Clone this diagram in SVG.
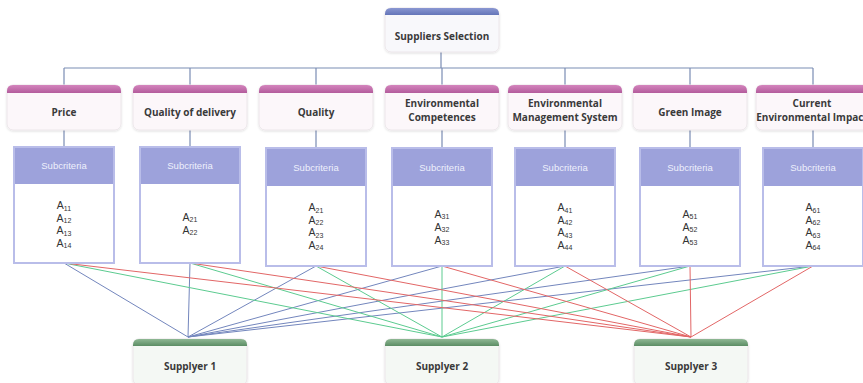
<svg xmlns="http://www.w3.org/2000/svg" width="863" height="383" viewBox="0 0 863 383">
  <style>
    .lbl { font-family: "Open Sans", "Liberation Sans", sans-serif; font-weight: bold; font-size: 10px; fill: #3a3a3a; text-anchor: middle; }
    .sub { font-family: "Liberation Sans", Arial, sans-serif; font-size: 9.5px; fill: #eef0fb; text-anchor: middle; }
    .item { font-family: "Liberation Sans", Arial, sans-serif; font-size: 10.5px; fill: #333; text-anchor: middle; }
    .item tspan { font-size: 7px; }
    .card { stroke: #ece6ea; stroke-width: 1; filter: url(#shadow); }
    .crit { fill: #fcf7fa; }
    .root { fill: #f8f8fb; }
    .supp { fill: #f4f8f4; }
    .box { fill: #ffffff; stroke: #b9bde9; stroke-width: 2; }
    .boxhead { fill: #9da2db; }
    .tree { stroke: #7b8db4; stroke-width: 1.2; fill: none; }
    .s1 { stroke: #7386bd; stroke-width: 1; }
    .s2 { stroke: #5ccb90; stroke-width: 1; }
    .s3 { stroke: #e26666; stroke-width: 1; }
  </style>
  <defs>
    <filter id="shadow" x="-10%" y="-10%" width="120%" height="130%">
      <feDropShadow dx="0" dy="1" stdDeviation="1.2" flood-color="#000" flood-opacity="0.12"/>
    </filter>
    <linearGradient id="gBlue" x1="0" y1="0" x2="0" y2="1">
      <stop offset="0" stop-color="#8a97d2"/>
      <stop offset="1" stop-color="#6475b8"/>
    </linearGradient>
    <linearGradient id="gPink" x1="0" y1="0" x2="0" y2="1">
      <stop offset="0" stop-color="#d484bd"/>
      <stop offset="1" stop-color="#b35c9c"/>
    </linearGradient>
    <linearGradient id="gGreen" x1="0" y1="0" x2="0" y2="1">
      <stop offset="0" stop-color="#8fb894"/>
      <stop offset="1" stop-color="#5b8d64"/>
    </linearGradient>
  </defs>

  <rect width="863" height="383" fill="#ffffff"/>

  <!-- connectors -->
  <g id="connectors">
    <!-- hierarchy -->
    <path class="tree" d="M441 52 V68 M64 68 H813 M64 68 V85 M190 68 V85 M316 68 V85 M442 68 V85 M565 68 V85 M690 68 V85 M813 68 V85"/>
    <path class="tree" d="M64 130 V147 M190 130 V147 M316 130 V148 M442 130 V148 M565 130 V148 M690 130 V148 M813 130 V148"/>
    <!-- subcriteria to supplier 1 -->
    <g class="s1">
      <line x1="64" y1="263" x2="188" y2="337"/>
      <line x1="190" y1="263" x2="188" y2="337"/>
      <line x1="316" y1="266" x2="188" y2="337"/>
      <line x1="442" y1="266" x2="188" y2="337"/>
      <line x1="565" y1="266" x2="188" y2="337"/>
      <line x1="690" y1="266" x2="188" y2="337"/>
      <line x1="813" y1="266" x2="188" y2="337"/>
    </g>
    <!-- subcriteria to supplier 2 -->
    <g class="s2">
      <line x1="64" y1="263" x2="442" y2="337"/>
      <line x1="190" y1="263" x2="442" y2="337"/>
      <line x1="316" y1="266" x2="442" y2="337"/>
      <line x1="442" y1="266" x2="442" y2="337"/>
      <line x1="565" y1="266" x2="442" y2="337"/>
      <line x1="690" y1="266" x2="442" y2="337"/>
      <line x1="813" y1="266" x2="442" y2="337"/>
    </g>
    <!-- subcriteria to supplier 3 -->
    <g class="s3">
      <line x1="64" y1="263" x2="691" y2="337"/>
      <line x1="190" y1="263" x2="691" y2="337"/>
      <line x1="316" y1="266" x2="691" y2="337"/>
      <line x1="442" y1="266" x2="691" y2="337"/>
      <line x1="565" y1="266" x2="691" y2="337"/>
      <line x1="690" y1="266" x2="691" y2="337"/>
      <line x1="813" y1="266" x2="691" y2="337"/>
    </g>
  </g>

  <!-- goal -->
  <g id="goal">
    <rect class="card root" x="385" y="8" width="114" height="44" rx="6"/>
    <path d="M385 15 V14 Q385 8 391 8 H493 Q499 8 499 14 V15 Z" fill="url(#gBlue)"/>
    <text class="lbl" x="442" y="39.5" font-size="10.5">Suppliers Selection</text>
  </g>

  <!-- criteria -->
  <g id="crit-price">
    <rect class="card crit" x="7" y="85" width="114" height="45" rx="6"/>
    <path d="M7 93 V91 Q7 85 13 85 H115 Q121 85 121 91 V93 Z" fill="url(#gPink)"/>
    <text class="lbl" x="64" y="115.5">Price</text>
  </g>
  <g id="crit-delivery">
    <rect class="card crit" x="133" y="85" width="114" height="45" rx="6"/>
    <path d="M133 93 V91 Q133 85 139 85 H241 Q247 85 247 91 V93 Z" fill="url(#gPink)"/>
    <text class="lbl" x="190" y="115.5">Quality of delivery</text>
  </g>
  <g id="crit-quality">
    <rect class="card crit" x="259" y="85" width="114" height="45" rx="6"/>
    <path d="M259 93 V91 Q259 85 265 85 H367 Q373 85 373 91 V93 Z" fill="url(#gPink)"/>
    <text class="lbl" x="316" y="115.5">Quality</text>
  </g>
  <g id="crit-competences">
    <rect class="card crit" x="385" y="85" width="114" height="45" rx="6"/>
    <path d="M385 93 V91 Q385 85 391 85 H493 Q499 85 499 91 V93 Z" fill="url(#gPink)"/>
    <text class="lbl" x="442" y="107">Environmental</text>
    <text class="lbl" x="442" y="120.7">Competences</text>
  </g>
  <g id="crit-ems">
    <rect class="card crit" x="508" y="85" width="114" height="45" rx="6"/>
    <path d="M508 93 V91 Q508 85 514 85 H616 Q622 85 622 91 V93 Z" fill="url(#gPink)"/>
    <text class="lbl" x="565" y="107">Environmental</text>
    <text class="lbl" x="565" y="120.7">Management System</text>
  </g>
  <g id="crit-green">
    <rect class="card crit" x="633" y="85" width="114" height="45" rx="6"/>
    <path d="M633 93 V91 Q633 85 639 85 H741 Q747 85 747 91 V93 Z" fill="url(#gPink)"/>
    <text class="lbl" x="690" y="115.5">Green Image</text>
  </g>
  <g id="crit-impact">
    <rect class="card crit" x="756" y="85" width="114" height="45" rx="6"/>
    <path d="M756 93 V91 Q756 85 762 85 H864 Q870 85 870 91 V93 Z" fill="url(#gPink)"/>
    <text class="lbl" x="812" y="107">Current</text>
    <text class="lbl" x="812" y="120.7">Environmental Impact</text>
  </g>

  <!-- subcriteria -->
  <g id="sub-price">
    <rect class="box" x="14" y="147" width="100" height="116"/>
    <rect class="boxhead" x="15" y="148" width="98" height="36"/>
    <text class="sub" x="64" y="169">Subcriteria</text>
    <text class="item" x="64" y="209">A<tspan dy="1.5">11</tspan></text>
    <text class="item" x="64" y="221.5">A<tspan dy="1.5">12</tspan></text>
    <text class="item" x="64" y="234">A<tspan dy="1.5">13</tspan></text>
    <text class="item" x="64" y="246.5">A<tspan dy="1.5">14</tspan></text>
  </g>
  <g id="sub-delivery">
    <rect class="box" x="140" y="147" width="100" height="116"/>
    <rect class="boxhead" x="141" y="148" width="98" height="36"/>
    <text class="sub" x="190" y="169">Subcriteria</text>
    <text class="item" x="190" y="220.5">A<tspan dy="1.5">21</tspan></text>
    <text class="item" x="190" y="233.5">A<tspan dy="1.5">22</tspan></text>
  </g>
  <g id="sub-quality">
    <rect class="box" x="266" y="148" width="100" height="118"/>
    <rect class="boxhead" x="267" y="149" width="98" height="37"/>
    <text class="sub" x="316" y="171">Subcriteria</text>
    <text class="item" x="316" y="211">A<tspan dy="1.5">21</tspan></text>
    <text class="item" x="316" y="223.5">A<tspan dy="1.5">22</tspan></text>
    <text class="item" x="316" y="236">A<tspan dy="1.5">23</tspan></text>
    <text class="item" x="316" y="248.5">A<tspan dy="1.5">24</tspan></text>
  </g>
  <g id="sub-competences">
    <rect class="box" x="392" y="148" width="100" height="118"/>
    <rect class="boxhead" x="393" y="149" width="98" height="37"/>
    <text class="sub" x="442" y="171">Subcriteria</text>
    <text class="item" x="442" y="217.5">A<tspan dy="1.5">31</tspan></text>
    <text class="item" x="442" y="230.5">A<tspan dy="1.5">32</tspan></text>
    <text class="item" x="442" y="243.5">A<tspan dy="1.5">33</tspan></text>
  </g>
  <g id="sub-ems">
    <rect class="box" x="515" y="148" width="100" height="118"/>
    <rect class="boxhead" x="516" y="149" width="98" height="37"/>
    <text class="sub" x="565" y="171">Subcriteria</text>
    <text class="item" x="565" y="211">A<tspan dy="1.5">41</tspan></text>
    <text class="item" x="565" y="223.5">A<tspan dy="1.5">42</tspan></text>
    <text class="item" x="565" y="236">A<tspan dy="1.5">43</tspan></text>
    <text class="item" x="565" y="248.5">A<tspan dy="1.5">44</tspan></text>
  </g>
  <g id="sub-green">
    <rect class="box" x="640" y="148" width="100" height="118"/>
    <rect class="boxhead" x="641" y="149" width="98" height="37"/>
    <text class="sub" x="690" y="171">Subcriteria</text>
    <text class="item" x="690" y="217.5">A<tspan dy="1.5">51</tspan></text>
    <text class="item" x="690" y="230.5">A<tspan dy="1.5">52</tspan></text>
    <text class="item" x="690" y="243.5">A<tspan dy="1.5">53</tspan></text>
  </g>
  <g id="sub-impact">
    <rect class="box" x="763" y="148" width="100" height="118"/>
    <rect class="boxhead" x="764" y="149" width="98" height="37"/>
    <text class="sub" x="813" y="171">Subcriteria</text>
    <text class="item" x="813" y="211">A<tspan dy="1.5">61</tspan></text>
    <text class="item" x="813" y="223.5">A<tspan dy="1.5">62</tspan></text>
    <text class="item" x="813" y="236">A<tspan dy="1.5">63</tspan></text>
    <text class="item" x="813" y="248.5">A<tspan dy="1.5">64</tspan></text>
  </g>

  <!-- suppliers -->
  <g id="supplier-1">
    <rect class="card supp" x="133" y="339" width="114" height="46" rx="6"/>
    <path d="M133 346 V345 Q133 339 139 339 H241 Q247 339 247 345 V346 Z" fill="url(#gGreen)"/>
    <text class="lbl" x="190" y="369.5">Supplyer 1</text>
  </g>
  <g id="supplier-2">
    <rect class="card supp" x="385" y="339" width="114" height="46" rx="6"/>
    <path d="M385 346 V345 Q385 339 391 339 H493 Q499 339 499 345 V346 Z" fill="url(#gGreen)"/>
    <text class="lbl" x="442" y="369.5">Supplyer 2</text>
  </g>
  <g id="supplier-3">
    <rect class="card supp" x="634" y="339" width="114" height="46" rx="6"/>
    <path d="M634 346 V345 Q634 339 640 339 H742 Q748 339 748 345 V346 Z" fill="url(#gGreen)"/>
    <text class="lbl" x="691" y="369.5">Supplyer 3</text>
  </g>
</svg>
